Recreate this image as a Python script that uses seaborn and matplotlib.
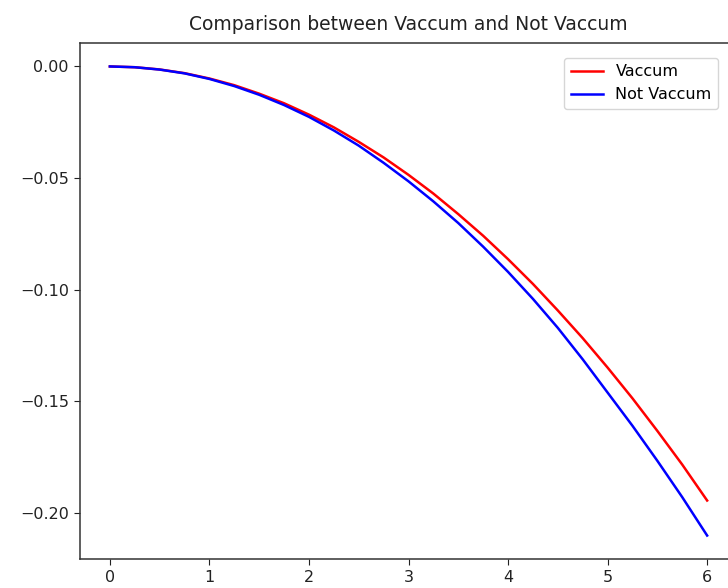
import matplotlib
matplotlib.use("Agg")
import matplotlib.pyplot as plt
import seaborn as sns
import pandas as pd

# values
t = [0, 0.25, 0.5, 0.75, 1, 1.25, 1.5, 1.75, 2, 2.25, 2.5, 2.75, 3,
     3.25, 3.5, 3.75, 4, 4.25, 4.5, 4.75, 5, 5.25, 5.5, 5.75, 6]
vaccum = [0, -0.00034, -0.00135, -0.0030, -0.0054, -0.0084, -0.0122,
          -0.0165, -0.0216, -0.0273, -0.0338, -0.0408, -0.0486,
          -0.0570, -0.0662, -0.0759, -0.0864, -0.0975, -0.1094,
          -0.1218, -0.1350, -0.1488, -0.1634, -0.1785, -0.1946]
not_vaccum = [0, -0.00035, -0.0014, -0.0031, -0.0056, -0.0088, -0.0127,
              -0.0173, -0.0226, -0.0287, -0.0355, -0.0432, -0.0515,
              -0.0605, -0.0702, -0.0808, -0.0921, -0.1042, -0.1172,
              -0.1313, -0.1462, -0.1611, -0.1768, -0.1931, -0.2103]

df = pd.DataFrame({
    "t": t * 2,
    "y": vaccum + not_vaccum,
    "series": ["Vaccum"] * len(t) + ["Not Vaccum"] * len(t),
})

fig = plt.figure(figsize=(7.28, 5.88), dpi=100)
ax = fig.add_axes([80 / 728, 1 - 559 / 588, 657 / 728, 516 / 588])

sns.lineplot(data=df, x="t", y="y", hue="series",
             palette={"Vaccum": "red", "Not Vaccum": "blue"},
             linewidth=1.8, ax=ax)

ax.set_title("Comparison between Vaccum and Not Vaccum", fontsize=13.5,
             color="#222222", pad=9)
ax.set_xlabel("")
ax.set_ylabel("")
ax.set_xticks(range(0, 7))
ax.set_yticks([0.0, -0.05, -0.10, -0.15, -0.20])
ax.set_yticklabels(["0.00", "\u22120.05", "\u22120.10", "\u22120.15", "\u22120.20"])
ax.tick_params(labelsize=11.5, length=4.5, colors="#222222")
for s in ax.spines.values():
    s.set_color("#333333")
    s.set_linewidth(1.1)

ax.legend(title=None, loc="upper right", fontsize=11.5,
          bbox_to_anchor=(726 / 728, 1 - 50 / 588), bbox_transform=fig.transFigure)

fig.savefig("out.png", dpi=100)
